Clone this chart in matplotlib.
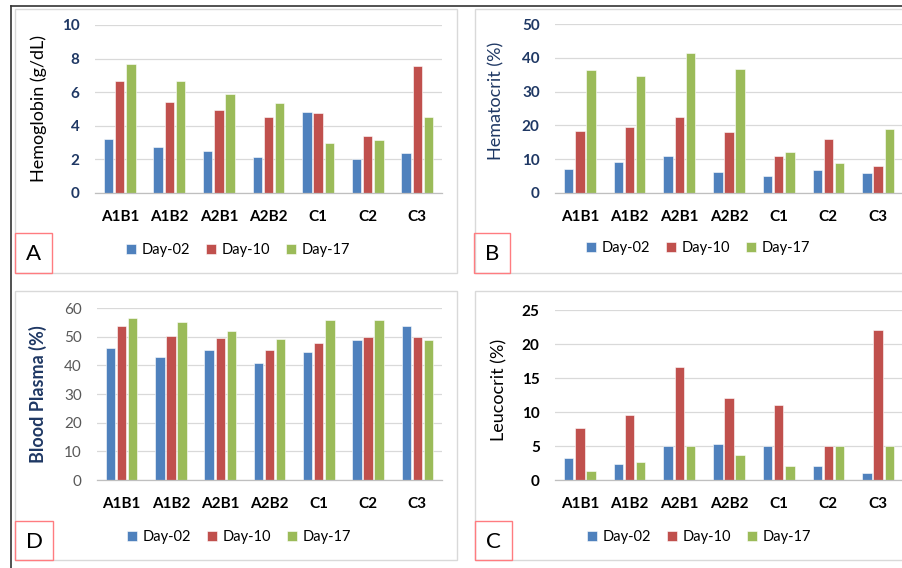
import matplotlib
matplotlib.use("Agg")
import matplotlib.pyplot as plt
from matplotlib.patches import Rectangle
from matplotlib.lines import Line2D
import numpy as np

plt.rcParams['font.family'] = ['Lato', 'DejaVu Sans']

categories = ["A1B1", "A1B2", "A2B1", "A2B2", "C1", "C2", "C3"]
series_names = ["Day-02", "Day-10", "Day-17"]

hemoglobin_d02 = [3.2, 2.75, 2.5, 2.15, 4.8, 2.0, 2.4]
hemoglobin_d10 = [6.67, 5.4, 4.93, 4.55, 4.78, 3.4, 7.57]
hemoglobin_d17 = [7.68, 6.67, 5.88, 5.35, 2.98, 3.17, 4.5]

hematocrit_d02 = [7.2, 9.3, 11.0, 6.3, 4.9, 6.9, 5.9]
hematocrit_d10 = [18.3, 19.4, 22.6, 18.0, 11.0, 16.0, 7.9]
hematocrit_d17 = [36.3, 34.6, 41.3, 36.7, 12.0, 9.0, 18.9]

plasma_d02 = [46.1, 42.8, 45.4, 40.8, 44.8, 48.8, 53.8]
plasma_d10 = [53.8, 50.1, 49.6, 45.4, 47.8, 49.9, 49.9]
plasma_d17 = [56.5, 55.1, 51.9, 49.2, 55.8, 55.8, 48.9]

leucocrit_d02 = [3.3, 2.35, 5.0, 5.3, 5.0, 2.0, 1.0]
leucocrit_d10 = [7.6, 9.6, 16.6, 12.0, 11.0, 5.0, 22.0]
leucocrit_d17 = [1.3, 2.6, 5.0, 3.65, 2.0, 5.0, 5.0]

colors = ["#4F81BD", "#C0504D", "#9BBB59"]
NAVY = "#1F3864"
GRID = "#D9D9D9"

W, H = 903, 568
fig = plt.figure(figsize=(W / 100, H / 100), dpi=100)


def fx(px):
    return px / W


def fy(py):
    return 1 - py / H


# outer dark frame lines (top and left)
fig.add_artist(Line2D([fx(11), 1], [fy(6), fy(6)], color="#333333", lw=1.2))
fig.add_artist(Line2D([fx(11), fx(11)], [fy(6), 0], color="#333333", lw=1.2))

# panel frames
for (x0, y0, x1, y1) in [(15, 9, 457, 273), (475, 9, 905, 273),
                         (15, 291, 457, 560), (475, 291, 905, 560)]:
    fig.add_artist(Rectangle((fx(x0), fy(y1)), fx(x1 - x0), (y1 - y0) / H,
                             fill=False, edgecolor=GRID, lw=1.0))

panels = [
    dict(data=[hemoglobin_d02, hemoglobin_d10, hemoglobin_d17], box=(95, 25, 442, 193),
         ymax=10, step=2, ylabel="Hemoglobin (g/dL)", lcolor="black", lweight="normal",
         tcolor=NAVY, tweight="bold", lpos=(-0.138, 0.5), letter="A",
         lbox=(15, 233, 52, 273), legy=250, legx=238),
    dict(data=[hematocrit_d02, hematocrit_d10, hematocrit_d17], box=(555, 24, 903, 193),
         ymax=50, step=10, ylabel="Hematocrit (%)", lcolor=NAVY, lweight="normal",
         tcolor=NAVY, tweight="bold", lpos=(-0.144, 0.545), letter="B",
         lbox=(474, 233, 510, 273), legy=248, legx=698),
    dict(data=[plasma_d02, plasma_d10, plasma_d17], box=(97, 308, 442, 480),
         ymax=60, step=10, ylabel="Blood Plasma (%)", lcolor=NAVY, lweight="bold",
         tcolor="#595959", tweight="normal", lpos=(-0.145, 0.5), letter="D",
         lbox=(15, 521, 53, 560), legy=537, legx=239),
    dict(data=[leucocrit_d02, leucocrit_d10, leucocrit_d17], box=(555, 310, 903, 480),
         ymax=25, step=5, ylabel="Leucocrit (%)", lcolor="black", lweight="normal",
         tcolor="black", tweight="bold", lpos=(-0.138, 0.53), letter="C",
         lbox=(475, 521, 512, 560), legy=537, legx=699),
]

x = np.arange(len(categories))
offsets = [-0.225, 0.0, 0.225]
bw = 0.19

for p in panels:
    x0, y0, x1, y1 = p["box"]
    ax = fig.add_axes([fx(x0), fy(y1), fx(x1 - x0), (y1 - y0) / H])
    handles = []
    for vals, off, c, name in zip(p["data"], offsets, colors, series_names):
        b = ax.bar(x + off, vals, width=bw, color=c, edgecolor="white", linewidth=0.4,
                   label=name, zorder=3)
        handles.append(b)
    ax.set_xlim(-0.5, len(categories) - 0.5)
    ax.set_ylim(0, p["ymax"])
    ax.set_yticks(np.arange(0, p["ymax"] + 0.001, p["step"]))
    ax.yaxis.grid(True, color=GRID, lw=0.9, zorder=0)
    ax.set_axisbelow(True)
    for s in ["top", "right", "left"]:
        ax.spines[s].set_visible(False)
    ax.spines["bottom"].set_color("#BFBFBF")
    ax.spines["bottom"].set_linewidth(0.9)
    ax.spines["bottom"].set_zorder(4)
    ax.set_xticks(x)
    ax.set_xticklabels(categories, fontsize=11, fontweight="bold", color="black")
    ax.tick_params(axis="x", length=0, pad=12)
    ax.tick_params(axis="y", length=0, pad=11, labelsize=11, labelcolor=p["tcolor"])
    for t in ax.get_yticklabels():
        t.set_fontweight(p["tweight"])
    ax.set_ylabel(p["ylabel"], fontsize=13, color=p["lcolor"], fontweight=p["lweight"])
    ax.yaxis.set_label_coords(*p["lpos"])
    ax.patch.set_alpha(0)

    # legend
    fig.legend(handles=handles, labels=series_names, loc="center",
               bbox_to_anchor=(fx(p["legx"]), fy(p["legy"])), ncol=3, frameon=False,
               fontsize=10.5, handlelength=0.7, handleheight=0.7, handletextpad=0.35,
               columnspacing=1.1, labelcolor="black")

    # panel letter box
    lx0, ly0, lx1, ly1 = p["lbox"]
    fig.add_artist(Rectangle((fx(lx0), fy(ly1)), fx(lx1 - lx0), (ly1 - ly0) / H,
                             fill=False, edgecolor="#FF7C80", lw=1.0))
    fig.text(fx((lx0 + lx1) / 2), fy((ly0 + ly1) / 2 + 1), p["letter"], fontsize=16,
             ha="center", va="center", color="black")

fig.savefig("out.png", dpi=100, facecolor="white")
